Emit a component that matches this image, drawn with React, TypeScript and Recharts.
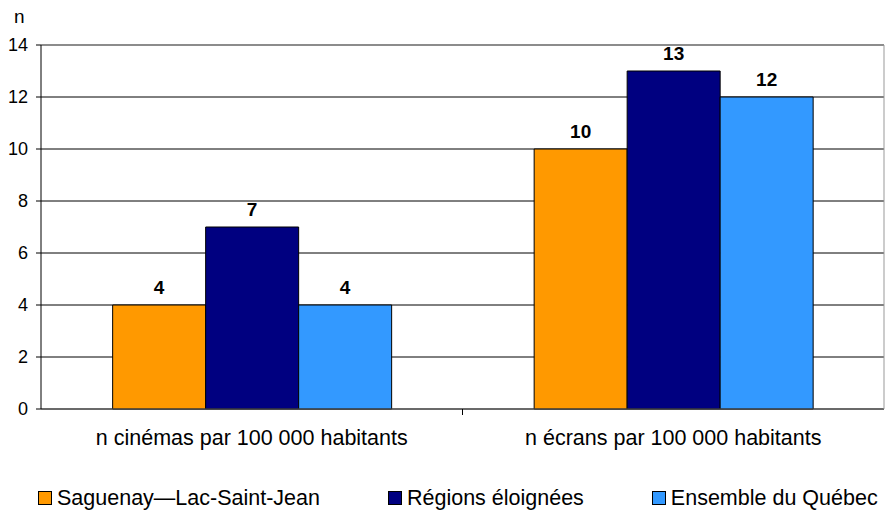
import { BarChart, Bar, XAxis, YAxis, CartesianGrid, LabelList, Legend, ReferenceLine } from "recharts"

const categories = ["n cinémas par 100 000 habitants", "n écrans par 100 000 habitants"]
const saguenay = [4, 10]
const eloignees = [7, 13]
const quebec = [4, 12]
const yTicks = [0, 2, 4, 6, 8, 10, 12, 14]

const SERIES = [
  { key: "saguenay", name: "Saguenay—Lac-Saint-Jean", color: "#FF9900" },
  { key: "eloignees", name: "Régions éloignées", color: "#000080" },
  { key: "quebec", name: "Ensemble du Québec", color: "#3399FF" },
]

const data = categories.map((c, i) => ({
  cat: c,
  saguenay: saguenay[i],
  eloignees: eloignees[i],
  quebec: quebec[i],
}))

const FONT = "Arial, 'Liberation Sans', sans-serif"

// libellé de catégorie + petit trait de séparation entre les groupes
const CatTick = (props: any) => {
  const { x, y, payload, index } = props
  const half = payload?.offset ?? 210.75
  return (
    <g>
      <text x={x} y={y + 36} textAnchor="middle" fontSize={21.5} fill="#000" fontFamily={FONT}>
        {payload.value}
      </text>
      {index === 0 && <line x1={x + half} x2={x + half} y1={y} y2={y + 6} stroke="#000" />}
    </g>
  )
}

const LegendBox = () => (
  <div
    style={{
      height: 44,
      display: "flex",
      alignItems: "flex-start",
      paddingTop: 19,
      paddingLeft: 38,
      boxSizing: "border-box",
      fontFamily: FONT,
      fontSize: 21.5,
      color: "#000",
      whiteSpace: "nowrap",
    }}
  >
    {SERIES.map((s, i) => (
      <div key={s.key} style={{ display: "flex", alignItems: "center", marginRight: i < 2 ? 68 : 0, lineHeight: "24px" }}>
        <span
          style={{
            display: "inline-block",
            width: 12,
            height: 12,
            background: s.color,
            border: "1px solid #000",
            marginRight: 5,
          }}
        />
        {s.name}
      </div>
    ))}
  </div>
)

export default function App() {
  return (
    <div style={{ position: "relative", width: 886, height: 511, fontFamily: FONT }}>
      <style>{"body{margin:0}"}</style>
      <div style={{ position: "absolute", left: 14, top: 6, fontSize: 19 }}>n</div>
      <BarChart
        width={886}
        height={511}
        data={data}
        margin={{ top: 45, right: 0, left: 0, bottom: 0 }}
        barCategoryGap="17%"
        barGap={0}
      >
        <CartesianGrid vertical={false} stroke="#000" />
        <XAxis
          dataKey="cat"
          height={58}
          tickLine={false}
          tickSize={0}
          tickMargin={0}
          axisLine={{ stroke: "#555" }}
          tick={<CatTick />}
          interval={0}
        />
        <YAxis
          width={41}
          domain={[0, 14]}
          ticks={yTicks}
          interval={0}
          tickSize={5}
          tickMargin={8}
          axisLine={{ stroke: "#000" }}
          tickLine={{ stroke: "#000" }}
          tick={{ fill: "#000", fontSize: 18, fontFamily: FONT }}
        />
        <YAxis
          yAxisId="r"
          orientation="right"
          width={2}
          domain={[0, 14]}
          tick={false}
          tickLine={false}
          axisLine={{ stroke: "#999" }}
        />
        <ReferenceLine y={14} stroke="#999" />
        <Legend verticalAlign="bottom" height={44} content={<LegendBox />} />
        {SERIES.map((s) => (
          <Bar key={s.key} dataKey={s.key} name={s.name} fill={s.color} stroke="#000" strokeWidth={1} isAnimationActive={false}>
            <LabelList
              dataKey={s.key}
              position="top"
              offset={11}
              style={{ fontSize: 19, fontWeight: "bold", fill: "#000", fontFamily: FONT }}
            />
          </Bar>
        ))}
      </BarChart>
    </div>
  )
}
